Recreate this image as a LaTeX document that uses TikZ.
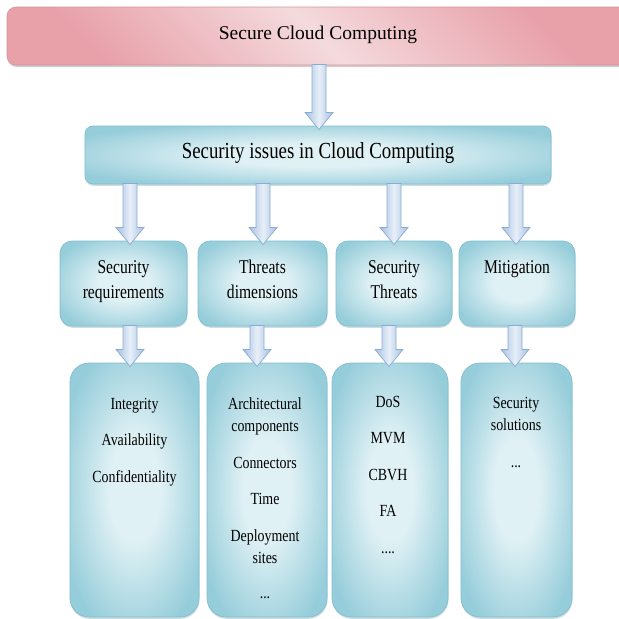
\documentclass[tikz,border=0pt]{standalone}
\usepackage{graphicx}
\usepackage{fontspec}
\setmainfont{Liberation Serif}
\usetikzlibrary{calc,shadows}

\definecolor{boxin}{HTML}{E0F1F5}
\definecolor{boxout}{HTML}{96CDDA}
\definecolor{boxline}{HTML}{80BECE}
\definecolor{boxshadow}{HTML}{5E8F9C}
\definecolor{bannerpink}{HTML}{E8A0A9}
\definecolor{bannerin}{HTML}{F4DADD}
\definecolor{bannerline}{HTML}{D3959D}
\definecolor{arrowside}{HTML}{A6C1E2}
\definecolor{arrowmid}{HTML}{E8EFF8}
\definecolor{arrowline}{HTML}{8AABD4}

% soft cyan glow: light centre, deeper cyan towards the border
\pgfdeclareradialshading{cyanglow}{\pgfpoint{0bp}{0bp}}%
  {color(0bp)=(boxin); color(10bp)=(boxin); color(30bp)=(boxout); color(50bp)=(boxout)}

% horizontally squeezed text, and a centred stack of lines
\newcommand\sqz[2]{\scalebox{#1}[1]{#2}}
\newcommand\stackrows[1]{\begin{tabular}[t]{@{}c@{}}#1\end{tabular}}

% block arrow from the bottom of #2 to the top of #3, on #3's centre line shifted by #1
\newcommand\blockarrow[3][0pt]{%
  \path[barrow] let \p1=(#3.north), \p2=(#2.south) in
    ({\x1+(#1)-7pt},{\y2+0.5pt}) -- ({\x1+(#1)-7pt},{\y1+13.5pt})
    -- ({\x1+(#1)-14pt},{\y1+13.5pt}) -- ({\x1+(#1)},{\y1-3.5pt})
    -- ({\x1+(#1)+14pt},{\y1+13.5pt}) -- ({\x1+(#1)+7pt},{\y1+13.5pt})
    -- ({\x1+(#1)+7pt},{\y2+0.5pt}) -- cycle;}

\begin{document}
\begin{tikzpicture}[x=1pt,y=-1pt,
  every node/.style={inner sep=0pt,outer sep=0pt},
  panel/.style={shape=rectangle, draw=boxline, line width=0.7pt, shade, shading=cyanglow,
    rounded corners=#1,
    drop shadow={shadow xshift=0.5pt, shadow yshift=-1.8pt, opacity=0.3, fill=boxshadow}},
  panel/.default=12pt,
  banner/.style={shape=rectangle, draw=bannerline, line width=0.6pt,
    top color=bannerpink, bottom color=bannerpink, middle color=bannerin,
    shading angle=-45, rounded corners=9pt,
    drop shadow={shadow xshift=0.5pt, shadow yshift=-2pt, opacity=0.35, fill=black!55}},
  barrow/.style={draw=arrowline, line width=0.7pt, line join=miter,
    left color=arrowside, right color=arrowside, middle color=arrowmid},
  titletext/.style={anchor=base, font=\fontsize{19.5}{23}\selectfont},
  headtext/.style={anchor=base, font=\fontsize{23}{27}\selectfont},
  cattext/.style={anchor=base, font=\fontsize{19.5}{25}\selectfont},
  itemtext/.style={anchor=base, font=\fontsize{17}{22.5}\selectfont},
]
\useasboundingbox (0,0) rectangle (619,619);
\fill[white] (0,0) rectangle (619,619);
\clip (0,0) rectangle (619,619);

% top banner and the main heading box
\node[banner, minimum width=622pt, minimum height=58pt] (top) at (318,36) {};
\node[panel=8pt, minimum width=466pt, minimum height=58pt] (issues) at (318,155) {};

% second row: categories
\node[panel, minimum width=127pt, minimum height=85pt] (req) at (123.5,283.5) {};
\node[panel, minimum width=129pt, minimum height=85pt] (dim) at (262.5,283.5) {};
\node[panel, minimum width=116pt, minimum height=85pt] (thr) at (394,283.5) {};
\node[panel, minimum width=116pt, minimum height=85pt] (mit) at (517,283.5) {};

% third row: tall lists
\node[panel=19pt, minimum width=129pt, minimum height=254pt] (lreq) at (134.5,490) {};
\node[panel=19pt, minimum width=120pt, minimum height=254pt] (ldim) at (267,490) {};
\node[panel=19pt, minimum width=116pt, minimum height=254pt] (lthr) at (390,490) {};
\node[panel=19pt, minimum width=111pt, minimum height=254pt] (lmit) at (516.5,490) {};

% texts
\node[titletext] (ttop) at (318,39) {Secure Cloud Computing};
\node[headtext] (tissues) at (318,158) {\sqz{0.82}{Security issues in Cloud Computing}};

\node[cattext] (treq) at (123.5,273) {\sqz{0.8}{\stackrows{Security\\requirements}}};
\node[cattext] (tdim) at (262.5,273) {\sqz{0.8}{\stackrows{Threats\\dimensions}}};
\node[cattext] (tthr) at (394,273) {\sqz{0.8}{\stackrows{Security\\Threats}}};
\node[cattext] (tmit) at (517,273) {\sqz{0.8}{Mitigation}};

\node[itemtext] (ireq) at (134.5,409) {\sqz{0.82}{\stackrows{Integrity\\[14pt]Availability\\[14pt]Confidentiality}}};
\node[itemtext] (idim) at (265,409) {\sqz{0.82}{\stackrows{Architectural\\components\\[14pt]Connectors\\[14pt]Time\\[14pt]Deployment\\sites\\[12.5pt]...}}};
\node[itemtext] (ithr) at (388,407) {\sqz{0.82}{\stackrows{DoS\\[14pt]MVM\\[14pt]CBVH\\[14pt]FA\\[14pt]....}}};
\node[itemtext] (imit) at (516,408) {\sqz{0.82}{\stackrows{Security\\solutions\\[14pt]...}}};

% block arrows
\blockarrow[1pt]{top}{issues}
\blockarrow[6.5pt]{issues}{req}
\blockarrow[0.5pt]{issues}{dim}
\blockarrow[0pt]{issues}{thr}
\blockarrow[-1pt]{issues}{mit}
\blockarrow[-4.5pt]{req}{lreq}
\blockarrow[-10pt]{dim}{ldim}
\blockarrow[-1pt]{thr}{lthr}
\blockarrow[-1.5pt]{mit}{lmit}
\end{tikzpicture}
\end{document}
